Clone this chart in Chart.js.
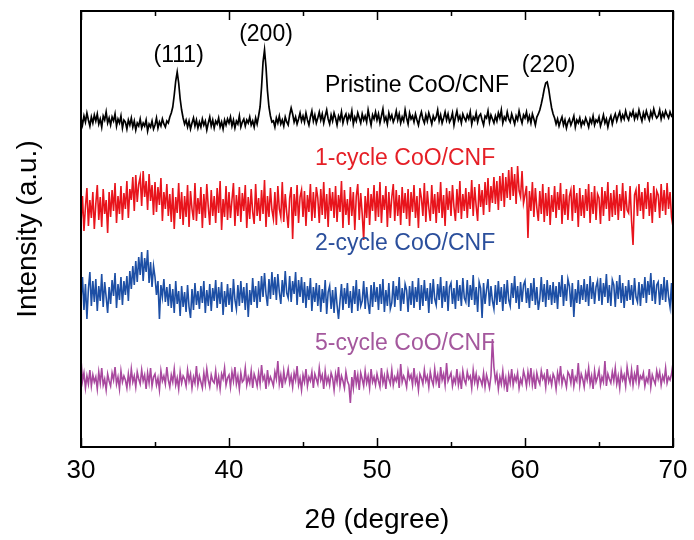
<!DOCTYPE html>
<html>
<head>
<meta charset="utf-8">
<script src="https://cdn.jsdelivr.net/npm/chart.js@4.4.1/dist/chart.umd.min.js"></script>
<style>
  html, body { margin: 0; padding: 0; background: #fff; }
  #wrap { width: 694px; height: 540px; }
</style>
</head>
<body>
<div id="wrap"><canvas id="xrd"></canvas></div>
<script>
// 2-theta grid: 30 to 70 degrees, one reading every 0.1 degree
var angleStart = 30, angleStep = 0.1, angleCount = 401;

// intensities (a.u., curves already stacked with their offsets)
// one row per degree: N.0 ... N.9
var pristine = [
	329, 322, 331, 325, 334, 327, 321, 330, 324, 332,
	326, 333, 323, 328, 320, 331, 327, 335, 324, 329,
	322, 330, 326, 333, 321, 328, 324, 331, 319, 327,
	325, 318, 327, 322, 329, 320, 326, 317, 324, 321,
	328, 319, 324, 321, 327, 316, 323, 320, 326, 318,
	322, 329, 319, 325, 321, 328, 323, 320, 326, 324,
	330, 334, 340, 352, 366, 375, 364, 348, 337, 329,
	323, 327, 320, 326, 318, 324, 329, 321, 327, 319,
	325, 320, 328, 322, 326, 317, 324, 330, 321, 327,
	319, 326, 323, 329, 320, 325, 318, 327, 322, 328,
	324, 330, 321, 327, 319, 326, 323, 331, 320, 325,
	328, 321, 327, 324, 330, 322, 326, 320, 329, 323,
	331, 340, 360, 385, 397, 380, 356, 340, 331, 325,
	326, 320, 329, 324, 331, 323, 327, 321, 330, 325,
	322, 332, 339, 333, 325, 330, 323, 328, 334, 326,
	331, 325, 334, 327, 322, 330, 336, 326, 332, 324,
	329, 335, 327, 333, 324, 331, 337, 328, 323, 332,
	326, 334, 329, 322, 331, 327, 335, 324, 330, 333,
	325, 332, 328, 336, 323, 330, 326, 334, 329, 324,
	333, 327, 331, 325, 337, 329, 322, 332, 328, 335,
	327, 333, 324, 331, 338, 326, 330, 323, 334, 328,
	332, 325, 329, 336, 327, 333, 324, 330, 326, 337,
	329, 323, 334, 328, 331, 325, 333, 327, 322, 330,
	335, 328, 324, 332, 326, 334, 329, 323, 331, 327,
	330, 337, 326, 332, 324, 329, 335, 327, 333, 325,
	328, 334, 322, 330, 336, 327, 331, 324, 333, 329,
	326, 332, 328, 335, 323, 330, 327, 334, 325, 331,
	333, 327, 322, 331, 329, 336, 325, 332, 328, 324,
	331, 326, 334, 329, 337, 324, 330, 327, 335, 328,
	325, 333, 328, 323, 331, 327, 336, 329, 324, 332,
	329, 335, 326, 331, 324, 333, 328, 322, 330, 333,
	337, 343, 350, 358, 364, 365, 358, 348, 339, 333,
	329, 323, 328, 321, 326, 330, 322, 327, 319, 325,
	328, 322, 326, 331, 320, 327, 324, 329, 321, 326,
	323, 329, 325, 320, 328, 324, 331, 322, 327, 325,
	330, 321, 326, 332, 324, 328, 320, 327, 331, 323,
	329, 333, 326, 331, 335, 327, 332, 328, 336, 330,
	327, 334, 331, 336, 328, 333, 329, 337, 331, 326,
	334, 329, 336, 331, 327, 335, 330, 338, 332, 329,
	331, 337, 328, 334, 330, 336, 332, 329, 335, 331,
	333
];
var cycle1 = [
	224, 251, 216, 240, 259, 221, 247, 229, 255, 218,
	243, 262, 227, 250, 220, 258, 233, 247, 214, 255,
	230, 257, 236, 264, 224, 251, 233, 261, 227, 254,
	238, 266, 229, 258, 247, 270, 236, 272, 245, 263,
	270, 241, 276, 250, 266, 237, 273, 246, 262, 232,
	265, 235, 260, 242, 269, 226, 255, 238, 263, 231,
	253, 225, 259, 218, 250, 234, 264, 228, 255, 222,
	251, 230, 262, 220, 256, 238, 227, 264, 226, 249,
	233, 260, 219, 253, 229, 263, 240, 222, 257, 231,
	251, 224, 259, 234, 266, 217, 248, 230, 261, 227,
	255, 229, 247, 264, 221, 252, 231, 260, 225, 254,
	236, 262, 219, 250, 228, 258, 235, 223, 263, 231,
	249, 226, 257, 233, 267, 220, 251, 230, 259, 237,
	228, 255, 222, 261, 238, 230, 265, 225, 253, 234,
	219, 249, 260, 208, 253, 231, 262, 224, 250, 257,
	230, 256, 221, 252, 235, 263, 226, 255, 229, 260,
	249, 224, 258, 232, 265, 228, 253, 220, 259, 236,
	255, 229, 261, 225, 252, 235, 266, 219, 257, 232,
	248, 222, 260, 231, 255, 217, 251, 263, 227, 254,
	233, 207, 251, 229, 259, 222, 253, 236, 262, 226,
	256, 230, 265, 224, 252, 237, 261, 220, 255, 229,
	250, 263, 226, 257, 231, 252, 222, 260, 234, 254,
	228, 258, 221, 255, 235, 262, 229, 251, 219, 259,
	249, 231, 264, 225, 256, 239, 226, 262, 233, 253,
	224, 255, 234, 265, 229, 252, 221, 259, 237, 256,
	231, 262, 240, 226, 258, 234, 266, 228, 253, 236,
	259, 229, 255, 238, 267, 231, 260, 241, 226, 263,
	240, 257, 232, 265, 242, 269, 235, 261, 244, 270,
	243, 266, 237, 271, 246, 274, 240, 270, 249, 277,
	247, 280, 251, 273, 243, 281, 256, 250, 276, 244,
	252, 261, 209, 256, 236, 265, 230, 259, 239, 226,
	256, 233, 263, 225, 254, 231, 260, 222, 252, 235,
	261, 229, 255, 237, 264, 223, 253, 232, 258, 227,
	251, 257, 226, 262, 234, 254, 220, 259, 231, 252,
	229, 258, 236, 263, 224, 255, 233, 261, 227, 253,
	249, 223, 260, 231, 256, 238, 265, 226, 254, 230,
	257, 232, 262, 227, 253, 236, 264, 229, 256, 237,
	234, 261, 226, 202, 252, 257, 231, 263, 236, 255,
	228, 259, 238, 265, 231, 254, 224, 261, 235, 256,
	252, 229, 263, 236, 257, 232, 264, 238, 255, 230,
	220
];
var cycle2 = [
	148, 170, 137, 163, 128, 158, 175, 141, 166, 145,
	168, 136, 161, 146, 173, 140, 165, 150, 134, 160,
	143, 167, 151, 174, 139, 163, 147, 170, 142, 166,
	152, 171, 146, 176, 158, 181, 162, 186, 165, 190,
	172, 195, 166, 189, 175, 197, 164, 185, 160, 181,
	170, 152, 166, 128, 162, 150, 168, 145, 160, 141,
	163, 139, 158, 134, 166, 143, 156, 131, 161, 140,
	155, 135, 162, 140, 129, 158, 137, 164, 142, 156,
	138, 161, 144, 166, 134, 157, 141, 163, 136, 159,
	146, 167, 139, 160, 143, 165, 132, 156, 140, 163,
	142, 159, 135, 168, 147, 138, 162, 141, 166, 144,
	160, 137, 164, 130, 157, 142, 169, 145, 161, 139,
	166, 145, 171, 150, 174, 153, 141, 168, 148, 175,
	152, 170, 147, 173, 155, 143, 167, 150, 176, 154,
	149, 171, 145, 166, 153, 175, 142, 167, 150, 170,
	144, 165, 139, 161, 147, 169, 136, 160, 145, 164,
	141, 162, 135, 158, 144, 167, 133, 155, 161, 138,
	157, 134, 160, 142, 128, 146, 163, 137, 159, 143,
	164, 139, 156, 134, 161, 143, 167, 136, 158, 141,
	146, 166, 138, 160, 144, 133, 162, 140, 165, 145,
	160, 137, 163, 143, 168, 135, 157, 141, 164, 138,
	144, 166, 140, 161, 147, 170, 136, 159, 143, 163,
	157, 135, 161, 142, 166, 139, 160, 145, 169, 137,
	162, 141, 167, 146, 159, 134, 164, 143, 168, 148,
	142, 163, 147, 170, 139, 161, 145, 166, 136, 160,
	164, 143, 159, 138, 167, 146, 162, 141, 169, 149,
	145, 167, 140, 162, 147, 172, 142, 160, 135, 165,
	159, 129, 164, 143, 157, 168, 141, 161, 146, 138,
	162, 142, 166, 145, 160, 136, 163, 143, 167, 147,
	141, 164, 149, 171, 144, 161, 138, 165, 145, 162,
	166, 144, 159, 139, 164, 146, 169, 142, 160, 137,
	148, 170, 145, 163, 140, 167, 147, 162, 142, 165,
	144, 161, 138, 165, 150, 172, 141, 163, 146, 168,
	161, 140, 164, 130, 158, 144, 167, 143, 162, 147,
	168, 145, 163, 141, 171, 148, 165, 143, 160, 166,
	146, 169, 142, 164, 150, 173, 144, 162, 141, 167,
	162, 140, 166, 148, 172, 144, 164, 139, 161, 146,
	167, 147, 162, 142, 169, 150, 145, 165, 141, 163,
	149, 170, 144, 166, 152, 174, 146, 167, 143, 162,
	165, 142, 163, 147, 170, 145, 167, 150, 140, 164,
	126
];
var cycle5 = [
	88, 66, 74, 59, 71, 63, 77, 61, 72, 65,
	70, 58, 75, 64, 79, 62, 68, 57, 73, 66,
	61, 74, 67, 80, 63, 70, 58, 76, 65, 71,
	67, 59, 73, 62, 78, 65, 71, 60, 75, 68,
	63, 77, 66, 72, 58, 74, 64, 79, 61, 70,
	73, 62, 69, 57, 76, 66, 71, 63, 80, 67,
	60, 72, 65, 78, 62, 69, 58, 75, 64, 71,
	68, 61, 77, 66, 73, 59, 70, 64, 81, 62,
	71, 65, 59, 74, 63, 78, 67, 60, 72, 66,
	64, 76, 61, 70, 58, 73, 68, 79, 62, 69,
	72, 60, 75, 66, 80, 63, 71, 58, 74, 65,
	67, 79, 62, 70, 64, 76, 59, 73, 68, 61,
	74, 63, 82, 67, 71, 58, 77, 64, 70, 66,
	61, 75, 68, 86, 63, 72, 59, 76, 65, 70,
	78, 64, 71, 60, 74, 67, 81, 62, 69, 57,
	72, 65, 78, 61, 70, 66, 75, 59, 73, 68,
	63, 79, 67, 72, 58, 76, 64, 70, 62, 74,
	69, 57, 73, 65, 80, 61, 71, 66, 59, 75,
	66, 62, 44, 70, 59, 77, 63, 72, 57, 74,
	68, 61, 76, 64, 71, 59, 78, 65, 70, 62,
	73, 66, 60, 79, 64, 71, 58, 75, 68, 63,
	77, 62, 70, 66, 74, 59, 83, 65, 71, 67,
	60, 76, 68, 72, 62, 79, 64, 70, 57, 73,
	69, 63, 77, 66, 71, 60, 75, 67, 62, 78,
	65, 72, 59, 80, 67, 73, 62, 84, 66, 70,
	74, 61, 69, 64, 78, 62, 71, 58, 76, 67,
	63, 75, 68, 71, 59, 77, 65, 73, 61, 70,
	67, 62, 74, 60, 72, 66, 59, 71, 108, 80,
	66, 73, 58, 70, 63, 76, 61, 69, 55, 72,
	64, 78, 62, 71, 66, 74, 59, 68, 63, 76,
	70, 61, 75, 65, 79, 62, 72, 58, 74, 67,
	63, 76, 68, 72, 60, 78, 65, 70, 62, 73,
	69, 58, 74, 66, 81, 63, 71, 67, 60, 75,
	72, 64, 78, 61, 70, 66, 84, 62, 73, 68,
	60, 74, 67, 79, 63, 71, 58, 76, 65, 70,
	77, 62, 70, 65, 86, 61, 73, 68, 64, 75,
	66, 79, 63, 71, 59, 76, 67, 72, 61, 80,
	70, 64, 77, 62, 73, 66, 82, 63, 71, 68,
	74, 61, 69, 65, 78, 60, 72, 67, 63, 76,
	68, 75, 62, 71, 66, 79, 64, 70, 67, 73,
	84
];

var seriesNames = ['Pristine CoO/CNF', '1-cycle CoO/CNF', '2-cycle CoO/CNF', '5-cycle CoO/CNF'];
var seriesColors = ['#000000', '#e8141c', '#1d4fa5', '#a8489e'];
var seriesWidths = [1.7, 1.6, 1.6, 1.6];
var textColors = ['#000000', '#e51f26', '#2b4f9c', '#a4589d'];
// where each curve name sits (degree, intensity)
var nameX = [52.7, 51.9, 51.9, 51.9];
var nameY = [361, 288, 203, 103];

var peakLabels = ['(111)', '(200)', '(220)'];
var peakX = [36.6, 42.5, 61.6];
var peakY = [391, 412, 381];

var majorTicks = [30, 40, 50, 60, 70];
var minorTicks = [35, 45, 55, 65];

var FONT = "'Liberation Sans', Arial, Helvetica, sans-serif";

var twoTheta = [];
for (var i = 0; i < angleCount; i++) {
	twoTheta.push(+(angleStart + i * angleStep).toFixed(1));
}

function toPoints(values) {
	var pts = [];
	for (var i = 0; i < values.length; i++) {
		pts.push({ x: twoTheta[i], y: values[i] });
	}
	return pts;
}

var allSeries = [pristine, cycle1, cycle2, cycle5];
var datasets = [];
for (var s = 0; s < allSeries.length; s++) {
	datasets.push({
		label: seriesNames[s],
		data: toPoints(allSeries[s]),
		borderColor: seriesColors[s],
		borderWidth: seriesWidths[s],
		pointRadius: 0,
		tension: 0,
		fill: false
	});
}

// box round the plot, ticks pointing inward, and the text labels
var framePlugin = {
	id: 'frame',
	afterDatasetsDraw: function (chart) {
		var ctx = chart.ctx, a = chart.chartArea, x = chart.scales.x, y = chart.scales.y;
		ctx.save();
		ctx.strokeStyle = '#000';
		ctx.lineWidth = 2;
		ctx.strokeRect(a.left, a.top, a.right - a.left, a.bottom - a.top);

		ctx.lineWidth = 1.5;
		function tick(v, len) {
			var px = Math.round(x.getPixelForValue(v)) + 0.5;
			ctx.beginPath();
			ctx.moveTo(px, a.bottom);
			ctx.lineTo(px, a.bottom - len);
			ctx.moveTo(px, a.top);
			ctx.lineTo(px, a.top + len);
			ctx.stroke();
		}
		majorTicks.forEach(function (v) { tick(v, 9); });
		minorTicks.forEach(function (v) { tick(v, 5); });

		ctx.textAlign = 'center';
		ctx.textBaseline = 'middle';
		ctx.font = '23px ' + FONT;
		for (var i = 0; i < seriesNames.length; i++) {
			ctx.fillStyle = textColors[i];
			ctx.fillText(seriesNames[i], x.getPixelForValue(nameX[i]), y.getPixelForValue(nameY[i]));
		}
		ctx.fillStyle = '#000';
		for (var j = 0; j < peakLabels.length; j++) {
			ctx.fillText(peakLabels[j], x.getPixelForValue(peakX[j]), y.getPixelForValue(peakY[j]));
		}
		ctx.restore();
	}
};

var chart = new Chart(document.getElementById('xrd').getContext('2d'), {
	type: 'line',
	data: { datasets: datasets },
	options: {
		responsive: true,
		maintainAspectRatio: false,
		animation: false,
		layout: { padding: { top: 11, right: 21, bottom: 0, left: 0 } },
		plugins: { legend: { display: false }, tooltip: { enabled: false } },
		scales: {
			x: {
				type: 'linear',
				min: 30,
				max: 70,
				grid: { display: false, drawTicks: false },
				border: { display: false },
				ticks: {
					stepSize: 10,
					padding: 8,
					color: '#000',
					font: { size: 26, family: FONT }
				},
				title: {
					display: true,
					text: '2θ (degree)',
					color: '#000',
					font: { size: 28, family: FONT },
					padding: { top: 0, bottom: 3 }
				},
				afterFit: function (scale) {
					scale.height = 93;
					scale.paddingLeft = 0;
					scale.paddingRight = 0;
				}
			},
			y: {
				min: 0,
				max: 436,
				grid: { display: false, drawTicks: false },
				border: { display: false },
				ticks: { display: false },
				title: {
					display: true,
					text: 'Intensity (a.u.)',
					color: '#000',
					font: { size: 28, family: FONT },
					padding: { top: 11, bottom: 0 }
				},
				afterFit: function (scale) {
					scale.width = 81;
				}
			}
		}
	},
	plugins: [framePlugin]
});
</script>
</body>
</html>
